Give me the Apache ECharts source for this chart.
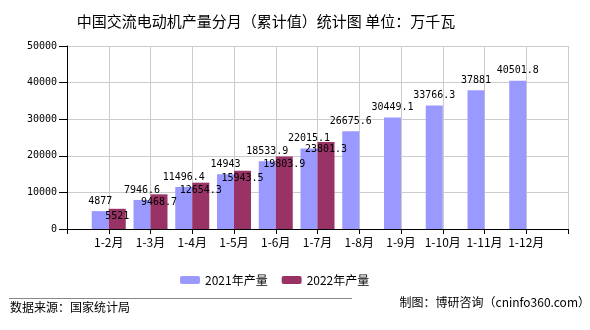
<!DOCTYPE html>
<html><head><meta charset="utf-8">
<script src="https://cdn.jsdelivr.net/npm/echarts@6/dist/echarts.min.js"></script>
<style>html,body{margin:0;padding:0;background:#fff}#c{width:590px;height:330px}</style>
</head><body><div id="c"></div>
<script>
const categories = ['1-2月','1-3月','1-4月','1-5月','1-6月','1-7月','1-8月','1-9月','1-10月','1-11月','1-12月'];
const series2021 = [4877, 7946.6, 11496.4, 14943, 18533.9, 22015.1, 26675.6, 30449.1, 33766.3, 37881, 40501.8];
const series2022 = [5521, 9468.7, 12654.3, 15943.5, 19803.9, 23801.3];
const seriesNames = ['2021年产量','2022年产量'];
const yTicks = [0, 10000, 20000, 30000, 40000, 50000];
const titleText = '中国交流电动机产量分月（累计值）统计图 单位：万千瓦';
const sourceText = '数据来源：国家统计局';
const creditText = '制图：博研咨询（cninfo360.com）';

const cats = [''].concat(categories, ['']);
const pad = (arr) => [null].concat(arr, new Array(cats.length - 1 - arr.length).fill(null));

const chart = echarts.init(document.getElementById('c'));
const cjk = '"Noto Sans CJK SC", sans-serif';
const mono = '"DejaVu Sans Mono", monospace';
chart.setOption({
  animation: false,
  backgroundColor: '#fff',
  title: { text: titleText, left: 261, textAlign: 'center', top: 9,
    textStyle: { fontFamily: cjk, fontSize: 15, fontWeight: 'normal', color: '#000' } },
  legend: { left: 175, top: 269, itemWidth: 20, itemHeight: 8, itemGap: 14,
    textStyle: { fontFamily: cjk, fontSize: 12, color: '#000' },
    data: seriesNames },
  grid: { left: 67, right: 22, top: 46, bottom: 101, containLabel: false },
  xAxis: { type: 'category', data: cats, boundaryGap: false,
    axisLine: { lineStyle: { color: '#000', width: 1 } },
    axisTick: { show: true, length: 5, interval: 0, lineStyle: { color: '#000' } },
    axisLabel: { interval: 0, fontFamily: cjk, fontSize: 12, color: '#000', margin: 7 },
    splitLine: { show: true, interval: 0, lineStyle: { color: '#ccc' } } },
  yAxis: { type: 'value', min: yTicks[0], max: yTicks[yTicks.length-1], interval: yTicks[1]-yTicks[0],
    axisLine: { show: true, lineStyle: { color: '#000' } },
    axisTick: { show: true, length: 8, lineStyle: { color: '#000' } },
    axisLabel: { fontFamily: mono, fontSize: 10, color: '#000', margin: 10, formatter: (v) => String(v) },
    splitLine: { lineStyle: { color: '#ccc' } } },
  series: [
    { name: seriesNames[0], type: 'bar', data: pad(series2021), barWidth: 17, barGap: '0%',
      itemStyle: { color: '#9999ff' },
      label: { show: true, position: 'top', distance: 5, fontFamily: mono, fontSize: 10, color: '#000' } },
    { name: seriesNames[1], type: 'bar', data: pad(series2022), barWidth: 17, barGap: '0%',
      itemStyle: { color: '#993366' },
      label: { show: true, position: 'insideTop', distance: 3, fontFamily: mono, fontSize: 10, color: '#000' } }
  ],
  graphic: [
    { type: 'line', shape: { x1: 9, y1: 298.5, x2: 352, y2: 298.5 }, style: { stroke: '#888', lineWidth: 1 } },
    { type: 'text', left: 10, top: 301, style: { text: sourceText, font: '12px "Noto Sans CJK SC"', fill: '#000' } },
    { type: 'text', right: 0, top: 296, style: { text: creditText, font: '12px "Noto Sans CJK SC"', fill: '#000' } }
  ]
});
</script></body></html>
